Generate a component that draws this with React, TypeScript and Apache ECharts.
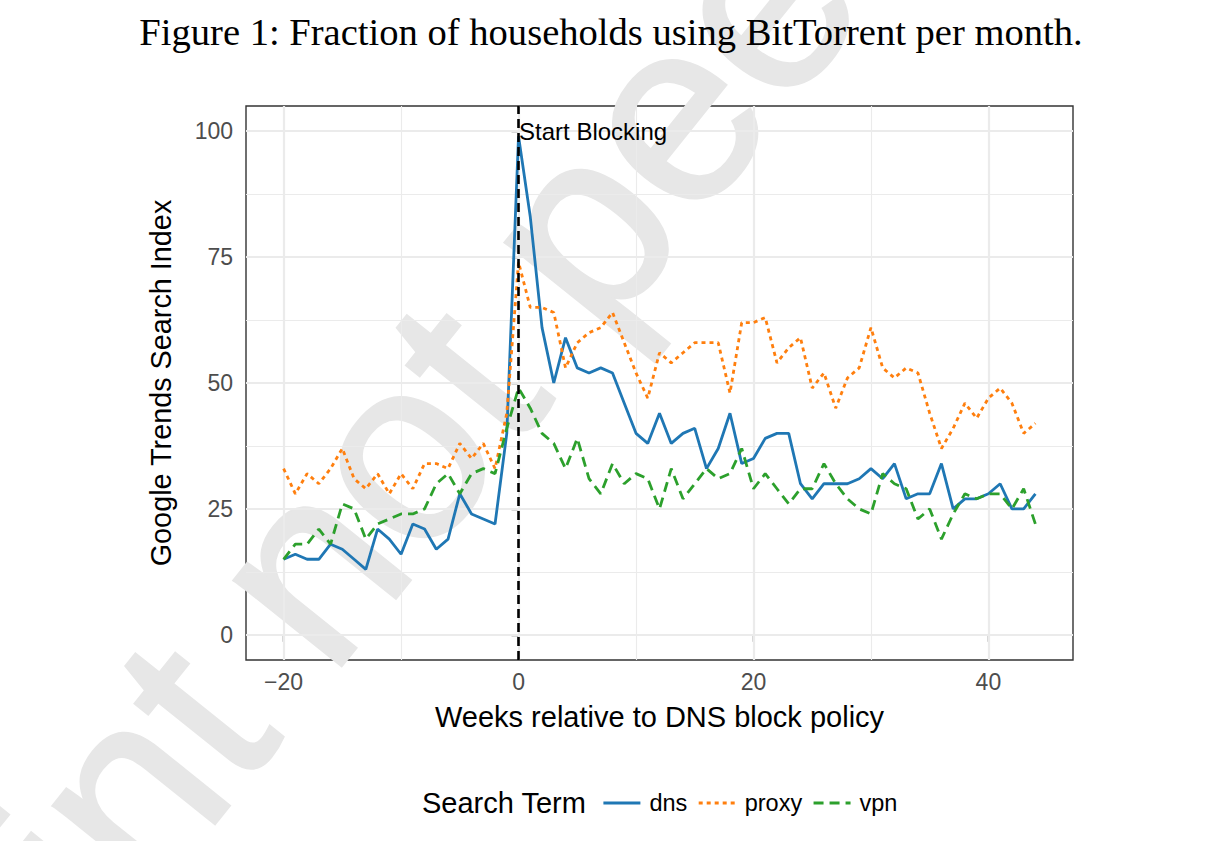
import React, { useEffect, useRef } from "react";
import * as echarts from "echarts";

const weeks = [
  -20, -19, -18, -17, -16, -15, -14, -13, -12, -11, -10, -9, -8, -7, -6, -5, -4, -3, -2, -1,
  0, 1, 2, 3, 4, 5, 6, 7, 8, 9, 10, 11, 12, 13, 14, 15, 16, 17, 18, 19, 20, 21, 22, 23, 24,
  25, 26, 27, 28, 29, 30, 31, 32, 33, 34, 35, 36, 37, 38, 39, 40, 41, 42, 43, 44,
];

const dns = [
  15, 16, 15, 15, 18, 17, 15, 13, 21, 19, 16, 22, 21, 17, 19, 28, 24, 23, 22, 40,
  99, 83, 61, 50, 59, 53, 52, 53, 52, 46, 40, 38, 44, 38, 40, 41, 33, 37, 44, 34, 35, 39, 40, 40, 30,
  27, 30, 30, 30, 31, 33, 31, 34, 27, 28, 28, 34, 25, 27, 27, 28, 30, 25, 25, 28,
];

const proxy = [
  33, 28, 32, 30, 33, 37, 31, 29, 32, 28, 32, 29, 34, 34, 33, 38, 35, 38, 33, 44,
  74, 65, 65, 64, 53, 58, 60, 61, 64, 58, 52, 47, 56, 54, 56, 58, 58, 58, 48, 62, 62, 63, 54, 57, 59,
  49, 52, 45, 51, 53, 61, 53, 51, 53, 52, 44, 37, 41, 46, 43, 47, 49, 46, 40, 42,
];

const vpn = [
  15, 18, 18, 21, 18, 26, 25, 19, 22, 23, 24, 24, 25, 30, 32, 28, 32, 33, 32, 41,
  49, 45, 40, 38, 33, 39, 31, 28, 34, 30, 32, 31, 25, 33, 27, 30, 33, 31, 32, 37, 29, 32, 29, 26, 29,
  29, 34, 30, 27, 25, 24, 32, 30, 29, 23, 25, 19, 24, 28, 27, 28, 28, 25, 29, 22,
];

const seriesNames = ["dns", "proxy", "vpn"];
const xTicks = [-20, 0, 20, 40];
const yTicks = [0, 25, 50, 75, 100];
const xMinorGrid = [-10, 10, 30];
const yMinorGrid = [12.5, 37.5, 62.5, 87.5];
const blockWeek = 0;
const blockLabelValue = 100;
const blockLabel = "Start Blocking";

const pair = (vals: number[]) => weeks.map((w, i) => [w, vals[i]]);
const fmt = (v: number) => (v < 0 ? "\u2212" + Math.abs(v) : String(v));

const SANS = "Liberation Sans";

export default function App() {
  const ref = useRef<HTMLDivElement>(null);
  useEffect(() => {
    if (!ref.current) return;
    const chart = echarts.init(ref.current, null, { renderer: "svg" });
    const major = { color: "#EBEBEB", width: 2.2, type: "solid" };
    const minor = { color: "#EBEBEB", width: 1.1, type: "solid" };
    const gridLines = [
      ...xTicks.map((v) => ({ xAxis: v, lineStyle: major })),
      ...xMinorGrid.map((v) => ({ xAxis: v, lineStyle: minor })),
      ...yTicks.map((v) => ({ yAxis: v, lineStyle: major })),
      ...yMinorGrid.map((v) => ({ yAxis: v, lineStyle: minor })),
    ];
    const option: any = {
      animation: false,
      backgroundColor: "#ffffff",
      grid: {
        left: 246,
        right: 148,
        top: 106,
        bottom: 181,
        show: true,
        borderColor: "#333333",
        borderWidth: 1.4,
        backgroundColor: "transparent",
      },
      xAxis: {
        type: "value",
        min: -23.2,
        max: 47.2,
        axisLine: { show: false },
        splitLine: { show: false },
        axisTick: {
          show: true,
          customValues: xTicks,
          length: 7,
          lineStyle: { color: "#333333", width: 1.4 },
        },
        axisLabel: {
          customValues: xTicks,
          margin: 10,
          color: "#4D4D4D",
          fontSize: 23,
          fontFamily: SANS,
          formatter: fmt,
        },
      },
      yAxis: {
        type: "value",
        min: -5,
        max: 105,
        axisLine: { show: false },
        splitLine: { show: false },
        axisTick: {
          show: true,
          customValues: yTicks,
          length: 7,
          lineStyle: { color: "#333333", width: 1.4 },
        },
        axisLabel: {
          customValues: yTicks,
          margin: 13,
          color: "#4D4D4D",
          fontSize: 23,
          fontFamily: SANS,
          formatter: fmt,
        },
      },
      legend: {
        data: seriesNames,
        left: 602,
        top: 791,
        padding: 0,
        itemWidth: 37,
        itemHeight: 14,
        itemGap: 10,
        itemStyle: { opacity: 0, borderWidth: 0 },
        lineStyle: { width: 2.8 },
        textStyle: {
          fontSize: 23.5,
          fontFamily: SANS,
          color: "#000000",
          lineHeight: 24,
          padding: [0, 0, 0, 4],
        },
      },
      graphic: [
        {
          id: "watermark",
          type: "text",
          z: 0,
          x: 43,
          y: 894,
          rotation: 0.895,
          silent: true,
          style: {
            text: "int not peer reviewed",
            fontSize: 260,
            fontFamily: SANS,
            fill: "#E7E7E7",
            stroke: "#E7E7E7",
            lineWidth: 3,
            textAlign: "left",
            textVerticalAlign: "middle",
          },
        },
        {
          id: "title",
          type: "text",
          z: 100,
          x: 611,
          y: 32,
          style: {
            text: "Figure 1: Fraction of households using BitTorrent per month.",
            fontSize: 38.6,
            fontFamily: "Liberation Serif",
            fill: "#000000",
            textAlign: "center",
            textVerticalAlign: "middle",
          },
        },
        {
          id: "xname",
          type: "text",
          z: 100,
          x: 659.5,
          y: 717,
          style: {
            text: "Weeks relative to DNS block policy",
            fontSize: 29,
            fontFamily: SANS,
            fill: "#000000",
            textAlign: "center",
            textVerticalAlign: "middle",
          },
        },
        {
          id: "yname",
          type: "text",
          z: 100,
          x: 161,
          y: 383,
          rotation: Math.PI / 2,
          style: {
            text: "Google Trends Search Index",
            fontSize: 28.8,
            fontFamily: SANS,
            fill: "#000000",
            textAlign: "center",
            textVerticalAlign: "middle",
          },
        },
        {
          id: "legendTitle",
          type: "text",
          z: 100,
          x: 422,
          y: 803,
          style: {
            text: "Search Term",
            fontSize: 29,
            fontFamily: SANS,
            fill: "#000000",
            textAlign: "left",
            textVerticalAlign: "middle",
          },
        },
      ],
      series: [
        {
          type: "line",
          name: "gridlines",
          data: [],
          silent: true,
          z: 1,
          markLine: {
            silent: true,
            z: 1,
            symbol: ["none", "none"],
            label: { show: false },
            data: gridLines,
          },
        },
        {
          type: "line",
          name: "dns",
          data: pair(dns),
          symbol: "none",
          z: 10,
          lineStyle: { color: "#1F77B4", width: 2.8, type: "solid" },
          itemStyle: { color: "#1F77B4" },
        },
        {
          type: "line",
          name: "proxy",
          data: pair(proxy),
          symbol: "none",
          z: 10,
          lineStyle: { color: "#FF7F0E", width: 2.8, type: [4, 4], cap: "butt" },
          itemStyle: { color: "#FF7F0E" },
        },
        {
          type: "line",
          name: "vpn",
          data: pair(vpn),
          symbol: "none",
          z: 10,
          lineStyle: { color: "#2CA02C", width: 2.8, type: [10, 6], cap: "butt" },
          itemStyle: { color: "#2CA02C" },
        },
        {
          type: "line",
          name: "block",
          data: [],
          silent: true,
          z: 11,
          markLine: {
            silent: true,
            z: 11,
            symbol: ["none", "none"],
            label: { show: false },
            data: [
              {
                xAxis: blockWeek,
                lineStyle: { color: "#000000", width: 2.6, type: [9, 5] },
              },
            ],
          },
        },
      ],
    };
    chart.setOption(option);
    const pt = chart.convertToPixel({ xAxisIndex: 0, yAxisIndex: 0 }, [
      blockWeek,
      blockLabelValue,
    ]) as number[];
    if (pt && isFinite(pt[0]) && isFinite(pt[1])) {
      chart.setOption({
        graphic: [
          {
            id: "blockLabel",
            type: "text",
            z: 120,
            x: pt[0] + 0.5,
            y: pt[1],
            style: {
              text: blockLabel,
              fontSize: 24,
              fontFamily: SANS,
              fill: "#000000",
              textAlign: "left",
              textVerticalAlign: "middle",
            },
          },
        ],
      });
    }
    return () => chart.dispose();
  }, []);
  return (
    <div
      ref={ref}
      style={{
        position: "fixed",
        left: 0,
        top: 0,
        width: 1221,
        height: 841,
        background: "#ffffff",
      }}
    />
  );
}
